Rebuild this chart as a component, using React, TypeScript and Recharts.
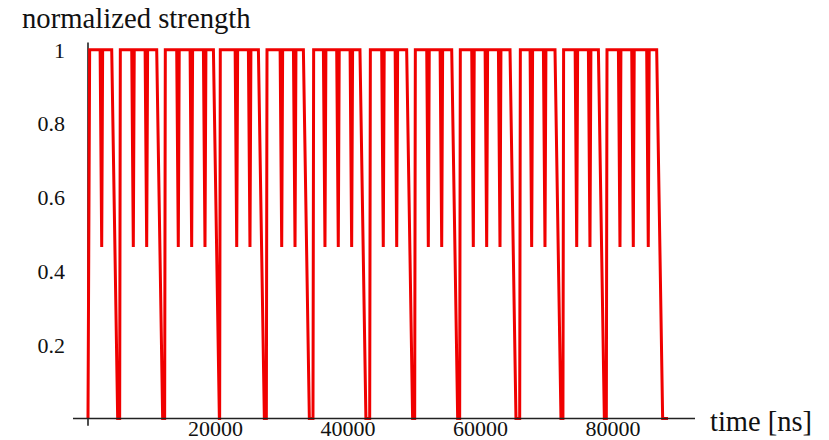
import React from "react";
import { LineChart, Line, XAxis, YAxis, ReferenceLine } from "recharts";

// Times (ns) where the strength dips to the half level
const dipTimes = [
  2070, 6840, 8860, 13630, 15650, 17660, 22450, 24450, 29240, 31250, 35770,
  37780, 39800, 44570, 46600, 51370, 53390, 58160, 60180, 62190, 66970, 68980,
  73770, 75770, 80300, 82310, 84570,
];
// Times (ns) where the strength falls to zero (mid-ramp)
const dropDownTimes = [
  4080, 10870, 19430, 26220, 33010, 41550, 48600, 55400, 64200, 70990, 77540,
  86340,
];
// Times (ns) where the strength comes back from zero
const dropUpTimes = [
  4830, 11620, 19920, 26970, 34010, 42570, 49360, 56150, 65210, 71740, 78290,
];
const startTime = 0;
const riseEndTime = 250;
const endTime = 87550;
const dipLevel = 0.465;
const highLevel = 1;
const lowLevel = 0;
// read ramp widths (ns)
const dipBefore = 240;
const dipAfter = 140;
const downBefore = 500;
const downAfter = 400;
const upHalf = 50;

const xTicks = [20000, 40000, 60000, 80000];
const yTicks = [0.2, 0.4, 0.6, 0.8, 1];

type Pt = { t: number; s: number };
const pts: Pt[] = [
  { t: startTime, s: lowLevel },
  { t: riseEndTime, s: highLevel },
];
dipTimes.forEach((d) => {
  pts.push({ t: d - dipBefore, s: highLevel });
  pts.push({ t: d, s: dipLevel });
  pts.push({ t: d + dipAfter, s: highLevel });
});
dropDownTimes.forEach((d) => {
  pts.push({ t: d - downBefore, s: highLevel });
  pts.push({ t: d + downAfter, s: lowLevel });
});
dropUpTimes.forEach((u) => {
  pts.push({ t: u - upHalf, s: lowLevel });
  pts.push({ t: u + upHalf, s: highLevel });
});
pts.push({ t: endTime, s: lowLevel });
const data = pts.sort((a, b) => a.t - b.t);

const FONT = "'Liberation Serif', 'Times New Roman', serif";

const XTitle = (props: any) => {
  const vb = props.viewBox || {};
  return (
    <text
      x={vb.x + vb.width + 15}
      y={vb.y + 12}
      fontFamily={FONT}
      fontSize={28.5}
      fill="#111"
    >
      time [ns]
    </text>
  );
};

const YTitle = (props: any) => {
  const vb = props.viewBox || {};
  return (
    <text x={22} y={vb.y - 14} fontFamily={FONT} fontSize={28.7} fill="#111">
      normalized strength
    </text>
  );
};

export default function App() {
  return (
    <div style={{ position: "absolute", left: 0, top: 0, background: "#fff" }}>
      <LineChart
        width={829}
        height={440}
        data={data}
        margin={{ top: 42.4, right: 134, bottom: 1.5, left: 0 }}
      >
        <XAxis
          dataKey="t"
          type="number"
          domain={[-2264, 91623]}
          ticks={xTicks}
          allowDataOverflow
          tickLine={false}
          tickSize={0}
          tickMargin={1.5}
          height={20}
          axisLine={{ stroke: "#222", strokeWidth: 1.6 }}
          tick={{ fontFamily: FONT, fontSize: 22, fill: "#111", dx: -5 }}
          label={{ content: XTitle }}
        />
        <YAxis
          type="number"
          domain={[0, 1.02]}
          ticks={yTicks}
          width={73}
          axisLine={false}
          tickLine={false}
          tickSize={0}
          tickMargin={8}
          tick={{ fontFamily: FONT, fontSize: 22, fill: "#111" }}
          label={{ content: YTitle }}
        />
        <ReferenceLine
          segment={[
            { x: 0, y: -0.02 },
            { x: 0, y: 1.02 },
          ]}
          ifOverflow="visible"
          stroke="#222"
          strokeWidth={1.6}
        />
        <Line
          type="linear"
          dataKey="s"
          stroke="#f00000"
          strokeWidth={3}
          dot={false}
          activeDot={false}
          isAnimationActive={false}
        />
      </LineChart>
    </div>
  );
}
